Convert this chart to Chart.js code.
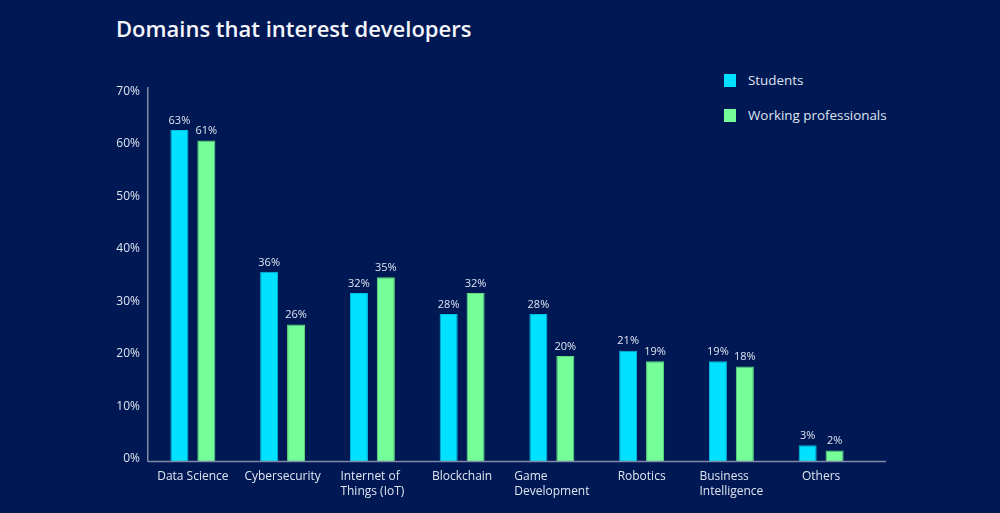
<!DOCTYPE html>
<html>
<head>
<meta charset="utf-8">
<script src="https://cdn.jsdelivr.net/npm/chart.js@4.4.1/dist/chart.umd.min.js"></script>
<style>
  html, body { margin: 0; padding: 0; background: #001955; }
  #wrap { position: relative; width: 1000px; height: 513px; }
  #title {
    position: absolute; left: 116px; top: 13px;
    font-family: "Open Sans", sans-serif; font-weight: 600; font-size: 22px;
    color: #f4f6fb;
  }
  #legend { position: absolute; left: 724px; top: 71px; font-family: "Open Sans", sans-serif; font-size: 13.4px; color: #dfe4f0; }
  .item { display: flex; align-items: center; height: 18px; margin-bottom: 17px; }
  .sw { width: 12px; height: 13px; margin-right: 12px; }
  canvas { position: absolute; left: 0; top: 0; }
</style>
</head>
<body>
<div id="wrap">
  <div id="title">Domains that interest developers</div>
  <div id="legend"></div>
  <canvas id="chart" width="1000" height="513"></canvas>
</div>
<script>
// ==========================================
// DATA
// ==========================================
const categories = [
    ['Data Science'],
    ['Cybersecurity'],
    ['Internet of', 'Things (IoT)'],
    ['Blockchain'],
    ['Game', 'Development'],
    ['Robotics'],
    ['Business', 'Intelligence'],
    ['Others']
];
const seriesNames = ['Students', 'Working professionals'];
const students = [63, 36, 32, 28, 28, 21, 19, 3];
const professionals = [61, 26, 35, 32, 20, 19, 18, 2];
const yTicks = [0, 10, 20, 30, 40, 50, 60, 70];

const colors = ['#00e0ff', '#76ff98'];
const borders = ['#00bfe0', '#5fe07f'];
const textColor = '#dfe4f0';
const axisColor = '#7f89a8';
const fontFamily = '"Open Sans", sans-serif';

// ==========================================
// PLUGINS
// ==========================================
// value labels above each bar
const valueLabels = {
    id: 'valueLabels',
    afterDatasetsDraw(chart) {
        const ctx = chart.ctx;
        ctx.save();
        ctx.font = `11px ${fontFamily}`;
        ctx.fillStyle = textColor;
        ctx.textAlign = 'center';
        ctx.textBaseline = 'bottom';
        chart.data.datasets.forEach((ds, i) => {
            chart.getDatasetMeta(i).data.forEach((bar, j) => {
                ctx.fillText(ds.data[j] + '%', bar.x, bar.y - 4);
            });
        });
        ctx.restore();
    }
};

// category labels: block centred on the tick, lines left aligned
const categoryLabels = {
    id: 'categoryLabels',
    afterDraw(chart) {
        const ctx = chart.ctx;
        const xScale = chart.scales.x;
        const area = chart.chartArea;
        ctx.save();
        // axis line runs a bit past the last group
        ctx.strokeStyle = axisColor;
        ctx.lineWidth = 1.5;
        ctx.beginPath();
        ctx.moveTo(area.left, area.bottom + 0.5);
        ctx.lineTo(area.right + 20, area.bottom + 0.5);
        ctx.stroke();

        ctx.font = `12px ${fontFamily}`;
        ctx.fillStyle = textColor;
        ctx.textAlign = 'left';
        ctx.textBaseline = 'middle';
        categories.forEach((lines, i) => {
            const cx = xScale.getPixelForTick(i);
            const w = Math.max(...lines.map(l => ctx.measureText(l).width));
            lines.forEach((l, k) => {
                ctx.fillText(l, cx - w / 2, area.bottom + 16 + k * 15);
            });
        });
        ctx.restore();
    }
};

// ==========================================
// CHART
// ==========================================
const chart = new Chart(document.getElementById('chart'), {
    type: 'bar',
    data: {
        labels: categories.map(c => c.join(' ')),
        datasets: [
            { label: seriesNames[0], data: students, backgroundColor: colors[0], borderColor: borders[0], borderWidth: 1 },
            { label: seriesNames[1], data: professionals, backgroundColor: colors[1], borderColor: borders[1], borderWidth: 1 }
        ]
    },
    options: {
        responsive: false,
        animation: false,
        layout: { padding: { left: 0, right: 134, top: 88, bottom: 52 } },
        datasets: { bar: { categoryPercentage: 0.6, barPercentage: 0.67 } },
        plugins: {
            legend: { display: false },
            title: { display: false },
            tooltip: { enabled: false }
        },
        scales: {
            x: {
                grid: { display: false, drawTicks: false },
                border: { display: false },
                ticks: { display: false }
            },
            y: {
                min: 0,
                max: 71,
                afterBuildTicks(scale) {
                    scale.ticks = yTicks.map(v => ({ value: v }));
                },
                afterFit(scale) { scale.width = 148; },
                grid: { display: false, drawTicks: false },
                border: { display: true, color: axisColor, width: 1.5 },
                ticks: {
                    color: textColor,
                    font: { family: fontFamily, size: 12 },
                    padding: 8,
                    labelOffset: -2,
                    callback: v => v + '%'
                }
            }
        }
    },
    plugins: [valueLabels, categoryLabels]
});

// HTML legend
const legend = document.getElementById('legend');
chart.data.datasets.forEach(ds => {
    const item = document.createElement('div');
    item.className = 'item';
    item.innerHTML = `<span class="sw" style="background:${ds.backgroundColor}"></span><span>${ds.label}</span>`;
    legend.appendChild(item);
});
</script>
</body>
</html>
